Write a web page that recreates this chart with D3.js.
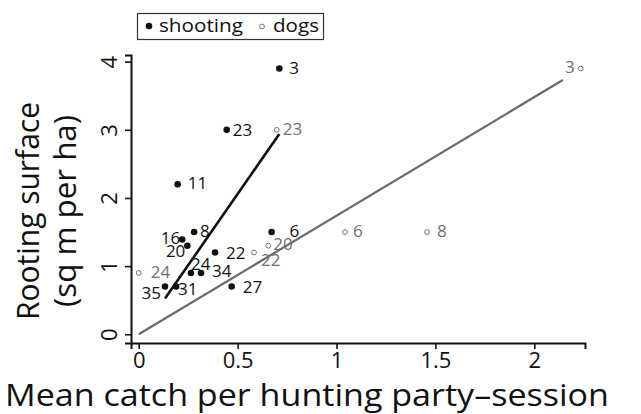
<!DOCTYPE html>
<html>
<head>
<meta charset="utf-8">
<script src="https://cdn.jsdelivr.net/npm/d3@7"></script>
<style>
  html, body { margin: 0; padding: 0; background: #fff; }
  svg { display: block; }
  text { font-family: "Open Sans", "Noto Sans", sans-serif; }
</style>
</head>
<body>
<svg id="chart" width="641" height="414"></svg>
<script>
// Sites hunted by shooting: id, mean catch, rooting surface
const shootingIds = ["3", "23", "11", "16", "8", "20", "22", "24", "34", "35", "31", "27", "6"];
const shootingCatch = [0.711, 0.445, 0.197, 0.220, 0.280, 0.246, 0.386, 0.264, 0.315, 0.133, 0.189, 0.470, 0.672];
const shootingRooting = [3.90, 3.00, 2.20, 1.39, 1.50, 1.30, 1.20, 0.90, 0.90, 0.70, 0.70, 0.70, 1.50];

// Sites hunted with dogs
const dogsIds = ["3", "23", "24", "22", "20", "6", "8"];
const dogsCatch = [2.235, 0.698, 0.0, 0.583, 0.655, 1.043, 1.458];
const dogsRooting = [3.90, 3.00, 0.90, 1.20, 1.30, 1.50, 1.50];

// Fitted lines: [intercept, slope], x extent of the fitted line
const shootingFit = [-0.032, 4.18];
const shootingFitRange = [0.133, 0.711];
const dogsFit = [0, 1.74];
const dogsFitRange = [0, 2.144];

// Axis ticks
const xTicks = [0, 0.5, 1, 1.5, 2];
const xTickLabels = ["0", "0.5", "1", "1.5", "2"];
const yTicks = [0, 1, 2, 3, 4];
const yTickLabels = ["0", "1", "2", "3", "4"];

const legendLabels = ["shooting", "dogs"];

const shooting = shootingIds.map((id, i) => ({ id, x: shootingCatch[i], y: shootingRooting[i] }));
const dogs = dogsIds.map((id, i) => ({ id, x: dogsCatch[i], y: dogsRooting[i] }));

// Label placement per point: [anchor, dx, dy]
const shootingLabelPos = {
  "3": ["start", 10, -1], "23": ["start", 6, 0], "11": ["start", 10, -2],
  "16": ["end", -2, -2], "8": ["start", 6, -1.5], "20": ["end", -2, 5],
  "22": ["start", 11, 0], "24": ["start", 0, -9], "34": ["start", 11, -2],
  "35": ["end", -4, 6], "31": ["start", 2, 2], "27": ["start", 11, 0],
  "6": ["start", 18, -2]
};
const dogsLabelPos = {
  "3": ["end", -6, -2], "23": ["start", 6, -1], "24": ["start", 12, -1.5],
  "22": ["start", 7, 7], "20": ["start", 5, -2], "6": ["start", 8, -1.5],
  "8": ["start", 10, -1.5]
};

const svg = d3.select("#chart");
const ink = "#111";
const grey = "#707070";

const plotLeft = 131, plotRight = 585, plotTop = 55, plotBottom = 343;
const x = d3.scaleLinear().domain([-0.0389, 2.2563]).range([plotLeft, plotRight]);
const y = d3.scaleLinear().domain([-0.128, 4.098]).range([plotBottom, plotTop]);

// x axis
const xAxis = svg.append("g")
  .attr("transform", `translate(0,${plotBottom})`)
  .call(d3.axisBottom(x).tickValues(xTicks).tickFormat((d, i) => xTickLabels[i]).tickSizeOuter(0).tickSize(6).tickPadding(3));
xAxis.select(".domain").attr("stroke", ink).attr("stroke-width", 2);
xAxis.selectAll(".tick line").attr("stroke", ink).attr("stroke-width", 1.6);
xAxis.selectAll(".tick text").attr("fill", ink).style("font-size", "22px").style("font-family", "'Open Sans', sans-serif");

// y axis with rotated tick labels
const yAxis = svg.append("g")
  .attr("transform", `translate(${plotLeft},0)`)
  .call(d3.axisLeft(y).tickValues(yTicks).tickFormat((d, i) => yTickLabels[i]).tickSizeOuter(0).tickSize(6));
yAxis.select(".domain").attr("stroke", ink).attr("stroke-width", 2);
yAxis.selectAll(".tick line").attr("stroke", ink).attr("stroke-width", 1.6);
yAxis.selectAll(".tick text")
  .attr("x", null).attr("dy", null)
  .attr("transform", "translate(-23,0) rotate(-90)")
  .attr("text-anchor", "middle")
  .attr("dominant-baseline", "central")
  .attr("fill", ink)
  .style("font-size", "22px").style("font-family", "'Open Sans', sans-serif");

// Axis titles
svg.append("text")
  .attr("x", 307).attr("y", 406)
  .attr("text-anchor", "middle")
  .attr("textLength", 604).attr("lengthAdjust", "spacingAndGlyphs")
  .attr("fill", ink)
  .style("font-size", "31px")
  .text("Mean catch per hunting party\u2013session");

const yTitle = svg.append("g").attr("transform", "translate(0,211) rotate(-90)");
yTitle.append("text")
  .attr("x", 0).attr("y", 39)
  .attr("text-anchor", "middle")
  .attr("textLength", 218).attr("lengthAdjust", "spacingAndGlyphs")
  .attr("fill", ink)
  .style("font-size", "31px")
  .text("Rooting surface");
yTitle.append("text")
  .attr("x", 0).attr("y", 76)
  .attr("text-anchor", "middle")
  .attr("textLength", 192).attr("lengthAdjust", "spacingAndGlyphs")
  .attr("fill", ink)
  .style("font-size", "31px")
  .text("(sq m per ha)");

// Fitted lines
function fitLine(fit, range, color, width) {
  const pts = range.map(v => [x(v), y(fit[0] + fit[1] * v)]);
  svg.append("path")
    .attr("d", d3.line()(pts))
    .attr("stroke", color).attr("stroke-width", width).attr("fill", "none");
}
fitLine(dogsFit, dogsFitRange, "#6a6a6a", 2.2);
fitLine(shootingFit, shootingFitRange, ink, 2.6);

// Points
svg.append("g").selectAll("circle").data(shooting).join("circle")
  .attr("cx", d => x(d.x)).attr("cy", d => y(d.y)).attr("r", 3.3)
  .attr("fill", ink);
svg.append("g").selectAll("circle").data(dogs).join("circle")
  .attr("cx", d => x(d.x)).attr("cy", d => y(d.y)).attr("r", 2.4)
  .attr("fill", "#fff").attr("stroke", grey).attr("stroke-width", 1);

// Point labels
function labels(data, pos, color) {
  svg.append("g").selectAll("text").data(data).join("text")
    .attr("x", d => x(d.x) + pos[d.id][1])
    .attr("y", d => y(d.y) + pos[d.id][2])
    .attr("text-anchor", d => pos[d.id][0])
    .attr("dominant-baseline", "central")
    .attr("fill", color)
    .style("font-size", "17px")
    .text(d => d.id);
}
labels(shooting, shootingLabelPos, ink);
labels(dogs, dogsLabelPos, grey);

// Legend
const legend = svg.append("g");
legend.append("rect")
  .attr("x", 137.5).attr("y", 13.5).attr("width", 186).attr("height", 26)
  .attr("fill", "#fff").attr("stroke", "#333").attr("stroke-width", 1.2);
legend.append("circle").attr("cx", 149).attr("cy", 26).attr("r", 3.3).attr("fill", ink);
legend.append("text").attr("x", 159).attr("y", 32)
  .attr("fill", ink).style("font-size", "19px")
  .attr("textLength", 84).attr("lengthAdjust", "spacingAndGlyphs")
  .text(legendLabels[0]);
legend.append("circle").attr("cx", 262).attr("cy", 26.5).attr("r", 2.4)
  .attr("fill", "#fff").attr("stroke", grey).attr("stroke-width", 1);
legend.append("text").attr("x", 273).attr("y", 32)
  .attr("fill", ink).style("font-size", "19px")
  .attr("textLength", 46).attr("lengthAdjust", "spacingAndGlyphs")
  .text(legendLabels[1]);
</script>
</body>
</html>
